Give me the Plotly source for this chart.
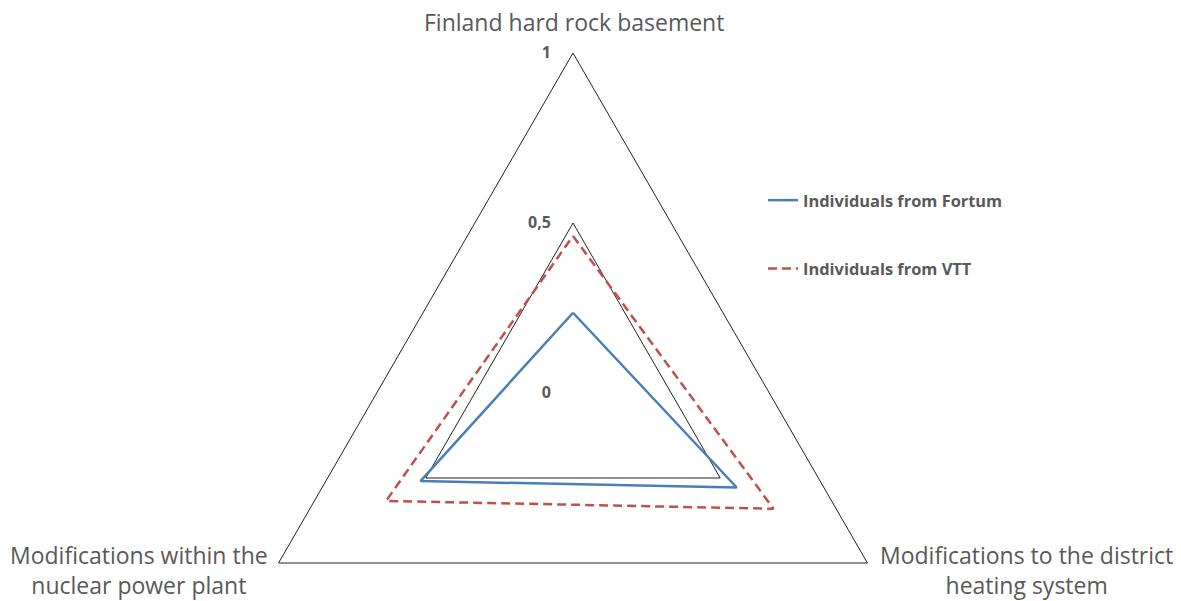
import plotly.graph_objects as go

categories = ["Finland hard rock basement",
              "Modifications to the district<br>heating system",
              "Modifications within the<br>nuclear power plant"]
fortum = [0.236, 0.556, 0.518]
vtt = [0.462, 0.681, 0.635]
tick_vals = [0, 0.5, 1]
tick_text = ["0", "0,5", "1"]

W, H = 1181, 760
cx, cy, R = 573, 393, 340
FONT = "Open Sans, Lato, sans-serif"
GRAY = "#595959"

fig = go.Figure()
fig.add_trace(go.Scatterpolar(
    r=fortum + fortum[:1], theta=categories + categories[:1],
    mode="lines", name="Individuals from Fortum", legendgroup="a",
    line=dict(color="#4A7EBB", width=2.5)))
fig.add_trace(go.Scatterpolar(
    r=vtt + vtt[:1], theta=categories + categories[:1],
    mode="lines", name="Individuals from VTT", legendgroup="b",
    line=dict(color="#C0504D", width=2.5, dash="9px,5px")))

# category labels placed around the triangle vertices
label_pos = [  # (x px, y px)
    (574, 22),
    (1026, 570),
    (139, 570),
]
for text, (px, py) in zip(categories, label_pos):
    fig.add_annotation(text=text, x=px / W, y=1 - py / H, xref="paper",
                       yref="paper", xanchor="center", yanchor="middle",
                       align="center", showarrow=False,
                       font=dict(size=23, color=GRAY, family=FONT))

fig.update_layout(
    width=W, height=H,
    margin=dict(l=0, r=0, t=0, b=0),
    paper_bgcolor="white",
    font=dict(family=FONT, color=GRAY),
    polar=dict(
        domain=dict(x=[(cx - R) / W, (cx + R) / W],
                    y=[(H - cy - R) / H, (H - cy + R) / H]),
        gridshape="linear",
        bgcolor="white",
        angularaxis=dict(rotation=90, direction="clockwise",
                         showgrid=False, showline=True, linecolor="#222222",
                         linewidth=1, ticks="", showticklabels=False),
        radialaxis=dict(range=[0, 1], tickvals=tick_vals, ticktext=tick_text,
                        angle=90, tickangle=90, showline=False,
                        ticks="outside", ticklen=16,
                        tickcolor="rgba(0,0,0,0)",
                        side="counterclockwise",
                        gridcolor="#222222", gridwidth=1,
                        tickfont=dict(size=16, color=GRAY, family=FONT,
                                      weight="bold")),
    ),
    showlegend=True,
    legend=dict(x=763 / W, y=1 - 183 / H, xanchor="left", yanchor="top",
                traceorder="grouped", tracegroupgap=44,
                font=dict(size=16.4, color=GRAY, family=FONT, weight="bold"),
                bgcolor="rgba(0,0,0,0)"),
)

fig.write_html("out.html", config={"displayModeBar": False}, post_script=(
    "document.documentElement.style.overflow='hidden';"
    "document.body.style.overflow='hidden';"
    "document.body.style.margin='0';"))
